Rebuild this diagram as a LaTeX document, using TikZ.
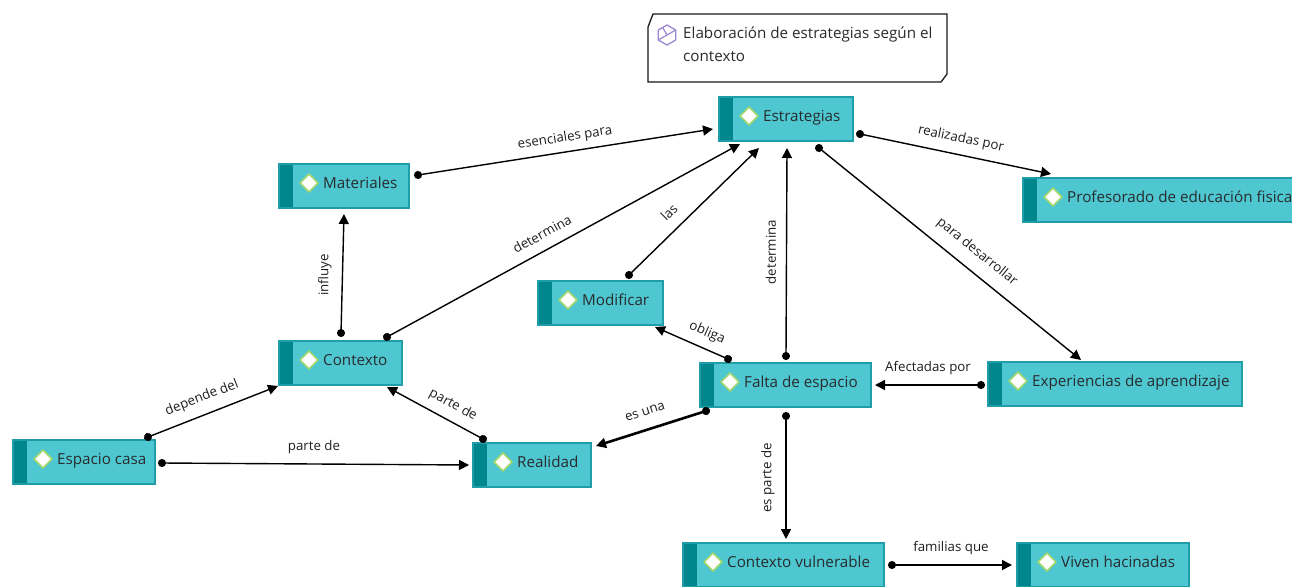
\documentclass[tikz,border=0pt]{standalone}
\usepackage{fontspec}
\setmainfont{Open Sans}
\usetikzlibrary{calc,arrows.meta}
\definecolor{cfill}{RGB}{79,199,208}
\definecolor{cstripe}{RGB}{0,135,142}
\definecolor{cborder}{RGB}{32,158,168}
\definecolor{ctextc}{RGB}{40,44,46}
\definecolor{dgreen}{RGB}{160,215,110}
\definecolor{iconc}{RGB}{155,135,210}
\tikzset{
  cbox/.style={draw=cborder, line width=1.2pt, fill=cfill, minimum height=44pt,
    anchor=north west, inner sep=0pt, outer sep=0pt,
    path picture={
      \fill[cstripe] (path picture bounding box.north west) rectangle ([xshift=14pt]path picture bounding box.south west);
      \filldraw[fill=white, draw=dgreen, line width=1.6pt, line join=round]
        ([shift={(30,10)}]path picture bounding box.north west) --
        ([shift={(39,19)}]path picture bounding box.north west) --
        ([shift={(30,28)}]path picture bounding box.north west) --
        ([shift={(21,19)}]path picture bounding box.north west) -- cycle;
    }},
  ctext/.style={anchor=base west, inner sep=0pt, text=ctextc, font=\fontsize{15.2}{18}\selectfont},
  lbl/.style={inner sep=0pt, text=black!88, font=\fontsize{13.3}{16}\selectfont},
  conn/.style={line width=1.4pt, draw=black, {Circle[length=8pt]}-{Triangle[length=10pt,width=10pt]}, shorten <=-4pt},
}
\newcommand\cnode[5]{%
  \node[cbox, minimum width=#4] (#1) at (#2,#3) {};
  \node[ctext] (#1-t) at ([shift={(44,24)}]#1.north west) {#5};}
\begin{document}
\begin{tikzpicture}[x=1pt,y=-1pt]
\useasboundingbox (0,0) rectangle (1292,586);
\clip (0,0) rectangle (1292,586);
\fill[white] (0,0) rectangle (1292,586);
% callout
\draw[line width=1.3pt, draw=black!90] (648,27) -- (653,14) -- (947,14) -- (947,74) -- (941,82) -- (648,82) -- cycle;
\coordinate (ic) at (667,35);
\draw[iconc, line width=1.3pt, line join=round] ($(ic)+(90:10)$) -- ($(ic)+(150:10)$) -- ($(ic)+(210:10)$) -- ($(ic)+(270:10)$) -- ($(ic)+(330:10)$) -- ($(ic)+(30:10)$) -- cycle;
\draw[iconc, line width=1.2pt, line join=round] ($(ic)+(150:10)$) -- (ic) -- ($(ic)+(330:10)$) (ic) -- ($(ic)+(240:8.5)$);
\node[ctext] (call1) at (683,39) {Elaboración de estrategias según el};
\node[ctext] (call2) at (683,61) {contexto};
% concepts
\cnode{est}{719}{97}{134}{Estrategias}
\cnode{mat}{279}{164}{130}{Materiales}
\cnode{prof}{1023}{178}{300}{Profesorado de educación fisica}
\cnode{mod}{538}{281}{125}{Modificar}
\cnode{ctx}{279}{341}{123}{Contexto}
\cnode{falta}{700}{363}{171}{Falta de espacio}
\cnode{exp}{988}{362}{254}{Experiencias de aprendizaje}
\cnode{esp}{13}{440}{142}{Espacio casa}
\cnode{real}{473}{443}{118}{Realidad}
\cnode{cv}{683}{543}{201}{Contexto vulnerable}
\cnode{viv}{1017}{543}{172}{Viven hacinadas}
% connectors
\draw[conn] ($(mat.north east)+(9,11)$) -- ($(est.north west)+(-6,32)$);
\draw[conn] ($(ctx.north east)+(-15,-4)$) -- ($(est.south west)+(21,3)$);
\draw[conn] ($(mod.north west)+(91,-6)$) -- ($(est.south west)+(40,7)$);
\draw[conn] ($(falta.north west)+(86,-7)$) -- ($(est.south west)+(68,7)$);
\draw[conn] ($(est.north east)+(7,37)$) -- ($(prof.north west)+(28,-4)$);
\draw[conn] ($(est.south east)+(-34,7)$) -- ($(exp.north west)+(93,-2)$);
\draw[conn] ($(ctx.north west)+(62,-8)$) -- ($(mat.south west)+(65,6)$);
\draw[conn] ($(falta.north west)+(28,-4)$) -- ($(mod.south east)+(-8,2)$);
\draw[conn] ($(exp.north west)+(-7,23)$) -- ($(falta.north east)+(4,22)$);
\draw[conn, line width=2.6pt] ($(falta.south west)+(6,4)$) -- ($(real.north east)+(5,3)$);
\draw[conn] ($(esp.north east)+(-7,-3)$) -- ($(ctx.south west)+(-1,1)$);
\draw[conn] ($(esp.north east)+(7,23)$) -- ($(real.north west)+(-4,22)$);
\draw[conn] ($(real.north west)+(10,-4)$) -- ($(ctx.south east)+(-15,2)$);
\draw[conn] ($(falta.south west)+(86,9)$) -- ($(cv.north west)+(103,-4)$);
\draw[conn] ($(cv.north east)+(8,22)$) -- ($(viv.north west)+(-5,22)$);
% labels
\node[lbl, rotate=8.9] (l1) at (565,138) {esenciales para};
\node[lbl, rotate=28.7] (l2) at (542,234) {determina};
\node[lbl, rotate=44.6] (l3) at (669,212) {las};
\node[lbl, rotate=90] (l4) at (771,252) {determina};
\node[lbl, rotate=-11.8] (l5) at (961,139) {realizadas por};
\node[lbl, rotate=-39.1] (l6) at (977,252) {para desarrollar};
\node[lbl, rotate=90] (l7) at (325,275) {influye};
\node[lbl, rotate=-23.7] (l8) at (707,333) {obliga};
\node[lbl] (l9) at (928,368) {Afectadas por};
\node[lbl, rotate=17.7] (l10) at (645,412) {es una};
\node[lbl, rotate=21.4] (l11) at (202,398) {depende del};
\node[lbl] (l12) at (314,447) {parte de};
\node[lbl, rotate=-28.4] (l13) at (453,405) {parte de};
\node[lbl, rotate=90] (l14) at (768,478) {es parte de};
\node[lbl] (l15) at (951,548) {familias que};
\end{tikzpicture}
\end{document}
